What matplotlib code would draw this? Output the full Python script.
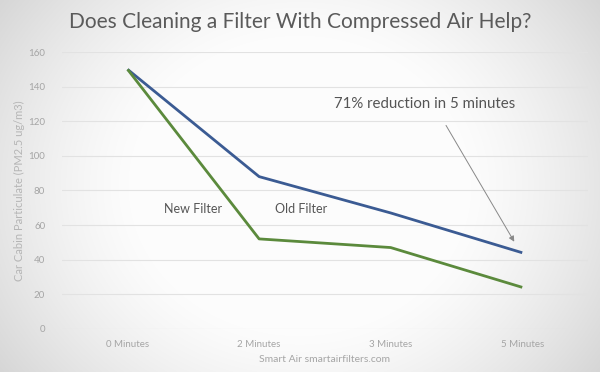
import matplotlib.pyplot as plt
import numpy as np

plt.rcParams['font.family'] = ['Lato', 'DejaVu Sans']

# data
categories = ['0 Minutes', '2 Minutes', '3 Minutes', '5 Minutes']
old_filter = [150, 88, 67, 44]
new_filter = [150, 52, 47, 24]

fig = plt.figure(figsize=(6, 3.72), dpi=100)

# radial grey background, light in the middle
bg = fig.add_axes([0, 0, 1, 1], zorder=0)
yy, xx = np.mgrid[-1:1:372j, -1:1:600j]
r = np.sqrt(xx ** 2 + 0.5 * yy ** 2)
shade = 0.99 - 0.25 * np.clip(r - 0.55, 0, None) ** 1.3
bg.imshow(np.dstack([shade] * 3), aspect='auto', extent=[0, 1, 0, 1])
bg.axis('off')

ax = fig.add_axes([0.103, 0.116, 0.877, 0.744], zorder=1)
ax.patch.set_alpha(0)
x = np.arange(len(categories))
ax.plot(x, old_filter, color='#3b5b93', lw=2.0, solid_capstyle='butt')
ax.plot(x, new_filter, color='#5b8a3c', lw=2.0, solid_capstyle='butt')

ax.set_xlim(-0.5, 3.5)
ax.set_ylim(0, 160)
ax.set_yticks(range(0, 161, 20))
ax.set_xticks(x)
ax.set_xticklabels(categories)
ax.grid(axis='y', color='#e2e2e2', lw=0.8)
ax.set_axisbelow(True)
for s in ax.spines.values():
    s.set_visible(False)
ax.tick_params(length=0, labelsize=7, colors='#a5a5a5', pad=8)
ax.tick_params(axis='y', pad=12)

ax.set_ylabel('Car Cabin Particulate (PM2.5 ug/m3)', fontsize=8, color='#b5b5b5', labelpad=2)
ax.set_xlabel('Smart Air smartairfilters.com', fontsize=7.5, color='#a5a5a5', labelpad=4)

fig.text(0.5, 0.94, 'Does Cleaning a Filter With Compressed Air Help?',
         ha='center', va='center', fontsize=15, color='#5a5a5a')

ax.text(0.28, 69, 'New Filter', fontsize=9, color='#555555', ha='left', va='center')
ax.text(1.12, 69, 'Old Filter', fontsize=9, color='#555555', ha='left', va='center')

ax.annotate('', xy=(2.95, 49), xytext=(2.41, 119),
            arrowprops=dict(arrowstyle='-|>', color='#888888', lw=0.7,
                            mutation_scale=8))
ax.text(2.26, 130, '71% reduction in 5 minutes', fontsize=10.8, color='#555555',
        ha='center', va='center')

fig.savefig('out.png', dpi=100)
